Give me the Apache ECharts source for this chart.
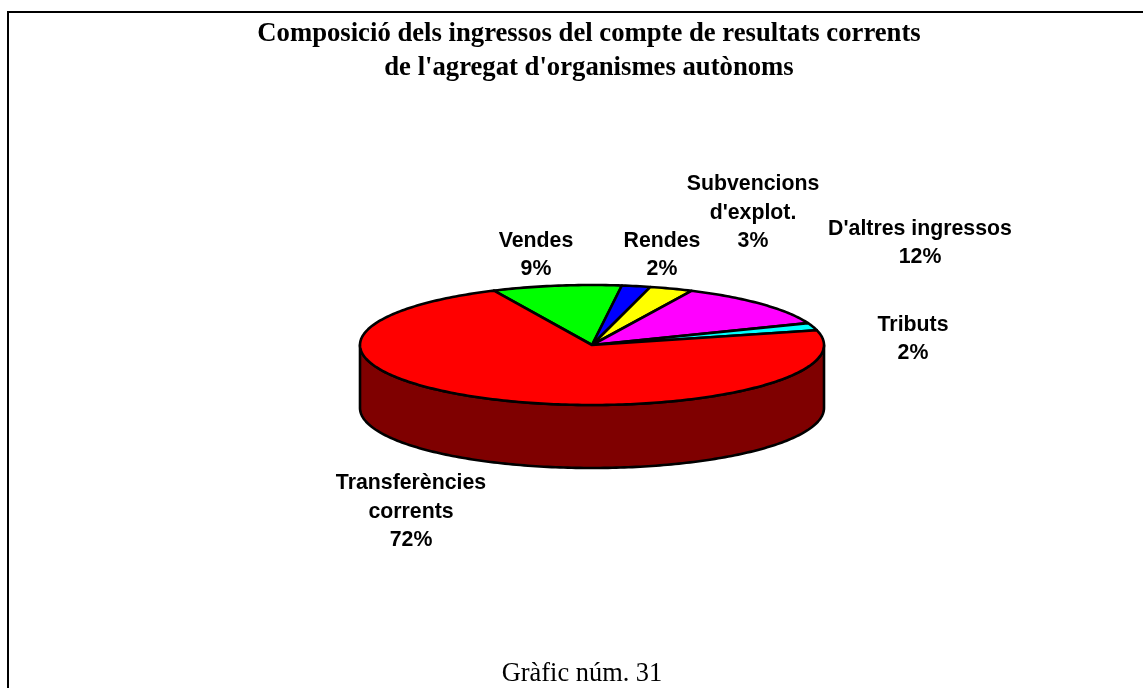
<!DOCTYPE html>
<html>
<head>
<meta charset="utf-8">
<style>
html,body{margin:0;padding:0;background:#fff;}
#main{width:1143px;height:688px;}
</style>
<script src="https://cdn.jsdelivr.net/npm/echarts@6/dist/echarts.min.js"></script>
</head>
<body>
<div id="main"></div>
<script>
var categories=['Vendes','Rendes',"Subvencions\nd'explot.","D'altres ingressos",'Tributs',"Transferències\ncorrents"];
var values=[9,2,3,12,2,72];
var colors=['#00ff00','#0000ff','#ffff00','#ff00ff','#00ffff','#ff0000'];
var titleText="Composició dels ingressos del compte de resultats corrents\nde l'agregat d'organismes autònoms";
var footerText='Gràfic núm. 31';

// centre i radis de l'el·lipse (vista inclinada)
var cx=592,cy=345,rx=232,ry=60,depth=63;
var startAngle=-25;
// on va cada etiqueta
var labelPos=[[536,255],[662,255],[753,213],[920,243],[913,339],[411,512]];

var total=0;
for(var i=0;i<values.length;i++){
    total+=values[i];
}
var angles=[startAngle];
for(var i=0;i<values.length;i++){
    angles.push(angles[i]+values[i]/total*360);
}

function rimPoint(a,dy){
    var r=a*Math.PI/180;
    return [cx+rx*Math.sin(r),cy-ry*Math.cos(r)+dy];
}
function arc(a0,a1,dy){
    var pts=[];
    var n=Math.max(2,Math.ceil(Math.abs(a1-a0)));
    for(var k=0;k<=n;k++){
        pts.push(rimPoint(a0+(a1-a0)*k/n,dy));
    }
    return pts;
}

function renderSlice(params,api){
    var i=params.dataIndex;
    var a0=angles[i],a1=angles[i+1];
    var children=[];
    // paret lateral, només la part de davant
    var w0=Math.max(a0,90),w1=Math.min(a1,270);
    if(w1>w0){
        children.push({
            type:'polygon',
            shape:{points:arc(w0,w1,0).concat(arc(w1,w0,depth))},
            style:{fill:'#7f0000',stroke:'#000',lineWidth:2.6,lineJoin:'round'}
        });
    }
    children.push({
        type:'polygon',
        shape:{points:[[cx,cy]].concat(arc(a0,a1,0))},
        style:{fill:colors[i],stroke:'#000',lineWidth:2.6,lineJoin:'round'}
    });
    return {type:'group',children:children};
}

function renderLabel(params,api){
    var i=params.dataIndex;
    return {
        type:'text',
        x:labelPos[i][0],
        y:labelPos[i][1],
        style:{
            text:categories[i]+'\n'+values[i]+'%',
            fill:'#000',
            font:'bold 21.3px "Liberation Sans"',
            align:'center',
            verticalAlign:'middle',
            lineHeight:28.5
        }
    };
}

var myChart=echarts.init(document.getElementById('main'));
var option={
    animation:false,
    title:{
        text:titleText,
        left:584,
        top:12,
        textAlign:'center',
        textStyle:{fontFamily:'Liberation Serif',fontWeight:'bold',fontSize:26.7,lineHeight:34,color:'#000'}
    },
    graphic:[
        {type:'polyline',shape:{points:[[8,688],[8,12],[1143,12]]},style:{fill:null,stroke:'#000',lineWidth:2}},
        {type:'text',x:582,y:674,style:{text:footerText,fill:'#000',font:'26.4px "Liberation Serif"',align:'center',verticalAlign:'middle'}}
    ],
    series:[
        {type:'custom',coordinateSystem:'none',renderItem:renderSlice,data:values,silent:true},
        {type:'custom',coordinateSystem:'none',renderItem:renderLabel,data:values,silent:true}
    ]
};
myChart.setOption(option);
</script>
</body>
</html>
